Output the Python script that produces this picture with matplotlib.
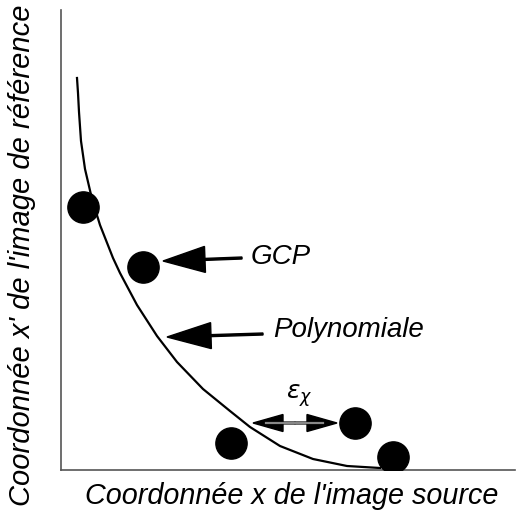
import matplotlib
matplotlib.use("Agg")
import matplotlib.pyplot as plt

plt.rcParams['font.family'] = ['Liberation Sans', 'DejaVu Sans']

# GCP points (arbitrary units, origin at axes corner)
gcp_x = [22, 82, 170, 294, 332]
gcp_y = [263, 203, 27, 47, 13]

# polynomial curve
poly_x = [16, 17, 18, 20, 24, 31, 39, 52, 59, 76, 96, 116, 142, 169, 189, 219, 252, 286, 319]
poly_y = [392, 377, 358, 329, 301, 271, 245, 212, 197, 165, 134, 108, 81, 59, 43, 24, 11, 4, 2]

x_label = "Coordonnée x de l'image source"
y_label = "Coordonnée x' de l'image de référence"

fig = plt.figure(figsize=(5.18, 5.13), dpi=100)
ax = fig.add_axes([61 / 518, 43 / 513, 454 / 518, 460 / 513])
ax.set_xlim(0, 454)
ax.set_ylim(0, 460)
for s in ['top', 'right']:
    ax.spines[s].set_visible(False)
for s in ['left', 'bottom']:
    ax.spines[s].set_color('#555555')
    ax.spines[s].set_linewidth(1.2)
ax.set_xticks([])
ax.set_yticks([])

ax.plot(poly_x, poly_y, color='black', lw=1.6, zorder=2,
        solid_joinstyle='round')
ax.plot(gcp_x, gcp_y, 'o', color='black', ms=22.5, zorder=3)

# GCP arrow
ax.arrow(181, 212, -79, -3, width=2, head_width=26, head_length=42,
         length_includes_head=True, color='black')
ax.text(190, 213, "GCP", fontsize=20, style='italic', va='center', ha='left')

# Polynomiale arrow
ax.arrow(202, 136, -96, -3, width=2, head_width=26, head_length=44,
         length_includes_head=True, color='black')
ax.text(212, 140, "Polynomiale", fontsize=20, style='italic', va='center', ha='left')

# epsilon double arrow
ax.arrow(234, 47, -42, 0, width=1.8, head_width=17, head_length=30,
         length_includes_head=True, color='black')
ax.arrow(234, 47, 42, 0, width=1.8, head_width=17, head_length=30,
         length_includes_head=True, color='black')
ax.plot([205, 262], [47, 47], color='#888888', lw=1.6, zorder=3)
ax.text(238, 74, r"$\varepsilon_\chi$", fontsize=18, ha='center', va='center')

fig.text(292 / 518, 1 - 496 / 513, x_label, fontsize=20.7, style='italic',
         ha='center', va='center')
fig.text(22 / 518, 1 - 255 / 513, y_label, fontsize=21, style='italic',
         ha='center', va='center', rotation=90)

fig.savefig('out.png', dpi=100)
